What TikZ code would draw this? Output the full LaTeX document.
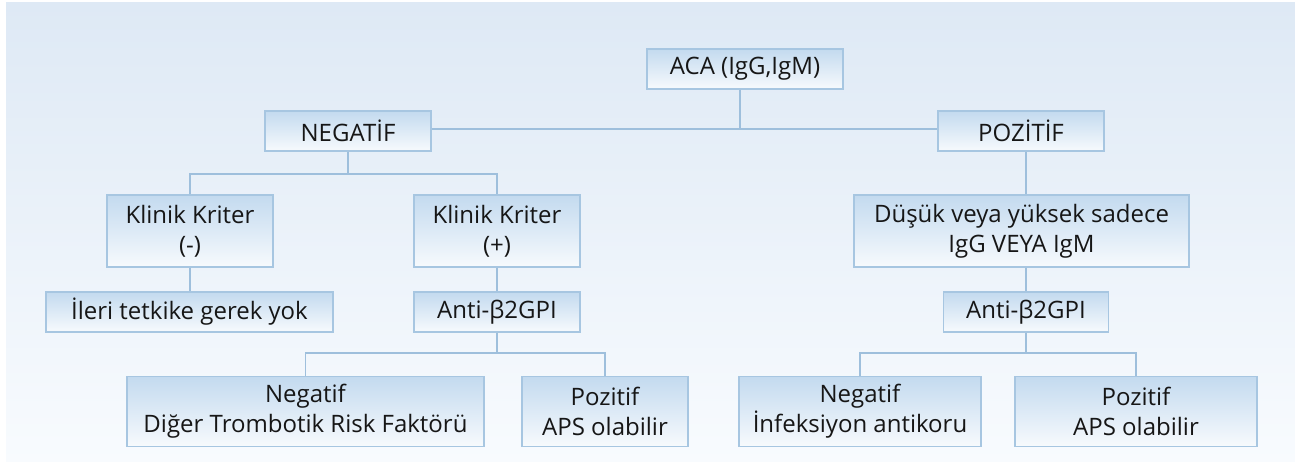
\documentclass[tikz,border=0pt]{standalone}
\usepackage{fontspec}
\setmainfont{Open Sans}
\definecolor{bgtop}{HTML}{DEE9F5}
\definecolor{bgbot}{HTML}{F8FBFE}
\definecolor{boxtop}{HTML}{C3DAEF}
\definecolor{boxbot}{HTML}{F7FAFD}
\definecolor{boxline}{HTML}{A7C6E1}
\definecolor{conn}{HTML}{9EBFDC}
\definecolor{txt}{HTML}{161616}
\tikzset{
  box/.style={draw=boxline, line width=1.3pt, top color=boxtop, bottom color=boxbot,
    inner sep=0pt, align=center, text=txt,
    font=\fontsize{24}{30}\selectfont},
  link/.style={draw=conn, line width=1.3pt}
}
\begin{document}
\begin{tikzpicture}[x=1pt,y=-1pt]
\useasboundingbox (0,0) rectangle (1295,462);
\fill[white] (0,0) rectangle (1295,462);
\shade[top color=bgtop, bottom color=bgbot] (6,3) rectangle (1295,462);

\node[box, minimum width=196pt, minimum height=40pt] (aca) at (745,69) {ACA (IgG,IgM)};
\node[box, minimum width=166pt, minimum height=40pt] (neg) at (348,131) {NEGATİF};
\node[box, minimum width=166pt, minimum height=40pt] (poz) at (1021,131) {POZİTİF};
\node[box, minimum width=166pt, minimum height=72pt] (kneg) at (190,231) {Klinik Kriter\\(-)};
\node[box, minimum width=166pt, minimum height=72pt] (kpos) at (497,231) {Klinik Kriter\\(+)};
\node[box, minimum width=287pt, minimum height=40pt] (ileri) at (189.5,312) {İleri tetkike gerek yok};
\node[box, minimum width=166pt, minimum height=40pt] (antia) at (497,312) {Anti-β2GPI};
\node[box, minimum width=335pt, minimum height=72pt] (dus) at (1021.5,231) {Düşük veya yüksek sadece\\IgG VEYA IgM};
\node[box, minimum width=165pt, minimum height=40pt] (antib) at (1026,312) {Anti-β2GPI};
\node[box, minimum width=357pt, minimum height=70pt] (na) at (305.5,411.5) {Negatif\\Diğer Trombotik Risk Faktörü};
\node[box, minimum width=166pt, minimum height=70pt] (pa) at (605,411.5) {Pozitif\\APS olabilir};
\node[box, minimum width=242pt, minimum height=70pt] (nb) at (860,411.5) {Negatif\\İnfeksiyon antikoru};
\node[box, minimum width=242pt, minimum height=70pt] (pb) at (1136,411.5) {Pozitif\\APS olabilir};

\coordinate (j0) at (740,129);
\coordinate (j1) at (0,174);
\coordinate (j2) at (0,353);

\draw[link] (neg.east |- j0) -- (poz.west |- j0);
\draw[link] (aca.south -| j0) -- (j0);

\draw[link] (neg.south) -- (neg.south |- j1);
\draw[link] (kneg.north) -- (kneg.north |- j1) -- (kpos.north |- j1) -- (kpos.north);
\draw[link] (kneg.south) -- (kneg.south |- ileri.north);
\draw[link] (kpos.south) -- (antia.north);
\draw[link] (antia.south) -- (antia.south |- j2);
\draw[link] (na.north) -- (na.north |- j2) -- (pa.north |- j2) -- (pa.north);

\draw[link] (poz.south -| antib.north) -- (dus.north -| antib.north);
\draw[link] (dus.south -| antib.north) -- (antib.north);
\draw[link] (antib.south) -- (antib.south |- j2);
\draw[link] (nb.north) -- (nb.north |- j2) -- (pb.north |- j2) -- (pb.north);
\end{tikzpicture}
\end{document}
